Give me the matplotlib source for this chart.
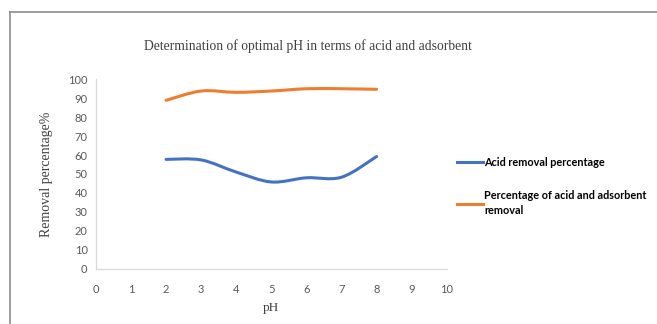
import numpy as np
import matplotlib.pyplot as plt
from matplotlib.path import Path
from matplotlib.patches import PathPatch
from matplotlib.lines import Line2D

# données
ph = [2, 3, 4, 5, 6, 7, 8]
acide = [57.7, 57.4, 51.0, 45.8, 48.0, 48.3, 59.2]
acide_adsorbant = [88.8, 93.7, 93.0, 93.7, 94.9, 94.9, 94.6]
labels = ["Acid removal percentage", "Percentage of acid and adsorbent\nremoval"]
couleurs = ["#4472C4", "#ED7D31"]


def courbe_lisse(x, y):
    # courbe de Bézier type Excel (lissage), points de contrôle à 1/6 des tangentes
    x = np.asarray(x, float)
    y = np.asarray(y, float)
    verts = [(x[0], y[0])]
    codes = [Path.MOVETO]
    n = len(x)
    for i in range(n - 1):
        x0, y0 = (x[i - 1], y[i - 1]) if i > 0 else (x[i], y[i])
        x3, y3 = (x[i + 2], y[i + 2]) if i + 2 < n else (x[i + 1], y[i + 1])
        c1 = (x[i] + (x[i + 1] - x0) / 6, y[i] + (y[i + 1] - y0) / 6)
        c2 = (x[i + 1] - (x3 - x[i]) / 6, y[i + 1] - (y3 - y[i]) / 6)
        verts += [c1, c2, (x[i + 1], y[i + 1])]
        codes += [Path.CURVE4] * 3
    return Path(verts, codes)


fig = plt.figure(figsize=(6.57, 3.24), dpi=100)
ax = fig.add_axes([0.146, 0.170, 0.534, 0.586])

for serie, couleur in zip([acide, acide_adsorbant], couleurs):
    ax.add_patch(PathPatch(courbe_lisse(ph, serie), facecolor="none",
                           edgecolor=couleur, lw=2.2, capstyle="round"))

ax.set_xlim(0, 10)
ax.set_ylim(0, 100)
ax.set_xticks(range(0, 11))
ax.set_yticks(range(0, 101, 10))
for s in ["top", "right"]:
    ax.spines[s].set_visible(False)
for s in ["left", "bottom"]:
    ax.spines[s].set_color("#D9D9D9")
    ax.spines[s].set_linewidth(0.9)
ax.tick_params(length=0, labelsize=8, labelcolor="#595959", pad=6)
ax.tick_params(axis="x", pad=11)
for t in ax.get_xticklabels() + ax.get_yticklabels():
    t.set_family("Lato")

ax.set_xlabel("pH", family="Liberation Serif", fontsize=9.5, color="#404040", labelpad=5)
ax.set_ylabel("Removal percentage%", family="Liberation Serif", fontsize=10, color="#404040", labelpad=11)
fig.text(0.468, 0.845, "Determination of optimal pH in terms of acid and adsorbent",
         family="Liberation Serif", fontsize=9.8, color="#404040", ha="center")

poignees = [Line2D([], [], color=c, lw=2.2) for c in couleurs]
leg = fig.legend(poignees, labels, loc="upper left", bbox_to_anchor=(0.681, 0.545),
                 frameon=False, handlelength=2.4, handletextpad=0.1, labelspacing=2.0,
                 prop={"family": "Lato", "weight": "bold", "size": 7.8})
for t in leg.get_texts():
    t.set_linespacing(1.5)

# cadre du graphique
fig.add_artist(Line2D([0.015, 0.015], [0, 0.963], color="#8C8C8C", lw=1.2))
fig.add_artist(Line2D([0.015, 1.0], [0.963, 0.963], color="#8C8C8C", lw=1.2))

fig.savefig("out.png", dpi=100)
